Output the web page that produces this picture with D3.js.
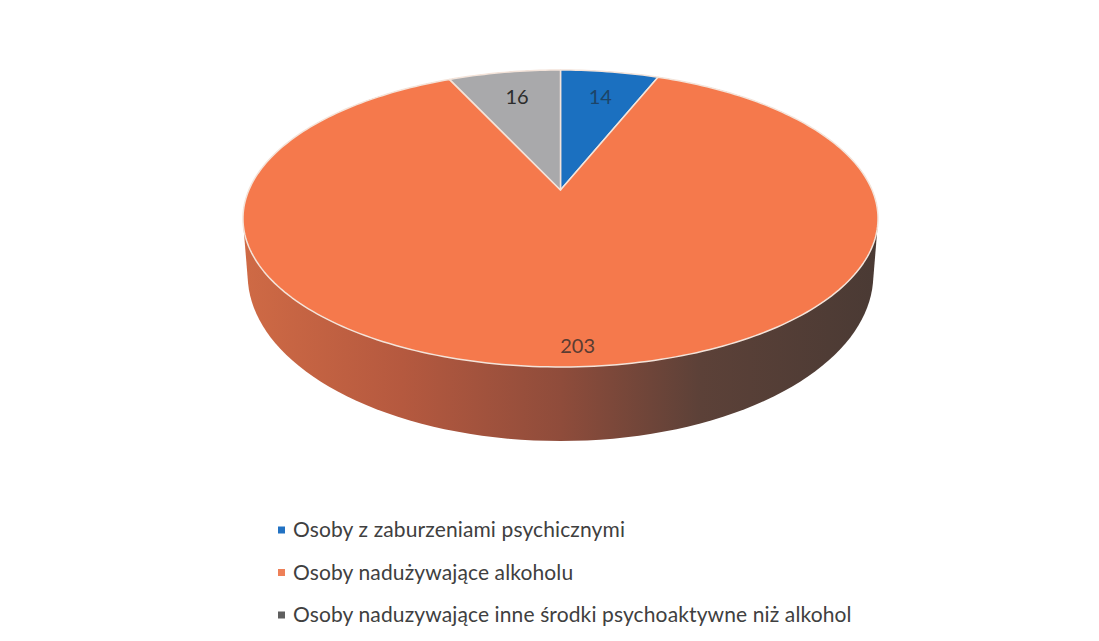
<!DOCTYPE html>
<html>
<head>
<meta charset="utf-8">
<script src="https://cdn.jsdelivr.net/npm/d3@7"></script>
<style>
html, body { margin: 0; padding: 0; background: #fff; overflow: hidden; }
text { font-family: Lato, "Open Sans", sans-serif; }
</style>
</head>
<body>
<div id="chart"></div>
<script>
var categories = [
    "Osoby z zaburzeniami psychicznymi",
    "Osoby nadużywające alkoholu",
    "Osoby naduzywające inne środki psychoaktywne niż alkohol"
];
var values = [14, 203, 16];
var sliceColors = ["#1b70c0", "#f5794c", "#a9a9ab"];
var legendColors = ["#2272c3", "#ee8058", "#5f5f5f"];
var labelColors = ["#1d4468", "#5a3c32", "#2c2c2c"];

var width = 1099, height = 641;

var svg = d3.select("#chart").append("svg")
    .attr("width", width)
    .attr("height", height);

// tilted disc: circle seen in perspective, y0 is where the pie centre lands
var topDisc = { x0: 560.5, y0: 190, a: 311.6, b: 143, k: 0.192 };
var bottomDisc = { x0: 560.5, y0: 243, a: 307, b: 160, k: 0.192 };

function project(disc, angle, r) {
    var s = Math.sin(angle) * r, u = Math.cos(angle) * r;
    var d = 1 + disc.k * u;
    return [disc.x0 + disc.a * s / d, disc.y0 - disc.b * u / d];
}

var pie = d3.pie().sort(null).value(function (d) { return d; });
var arcs = pie(values);
var line = d3.line();

function ring(disc) {
    return d3.range(0, 361, 2).map(function (deg) {
        return project(disc, deg * Math.PI / 180, 1);
    });
}

function slicePath(d) {
    var pts = [[topDisc.x0, topDisc.y0]];
    var n = Math.ceil((d.endAngle - d.startAngle) / 0.02);
    d3.range(n + 1).forEach(function (i) {
        pts.push(project(topDisc, d.startAngle + (d.endAngle - d.startAngle) * i / n, 1));
    });
    return line(pts) + "Z";
}

// side wall
var grad = svg.append("defs").append("linearGradient")
    .attr("id", "wall")
    .attr("gradientUnits", "userSpaceOnUse")
    .attr("x1", 243).attr("x2", 878).attr("y1", 0).attr("y2", 0);
grad.selectAll("stop")
    .data([[0, "#cf6a45"], [0.25, "#b5593f"], [0.5, "#8f4c3b"], [0.72, "#5c4138"], [1, "#4a3a34"]])
    .enter().append("stop")
    .attr("offset", function (d) { return d[0]; })
    .attr("stop-color", function (d) { return d[1]; });

svg.append("path")
    .attr("d", line(d3.polygonHull(ring(topDisc).concat(ring(bottomDisc)))) + "Z")
    .attr("fill", "url(#wall)");

svg.selectAll(".slice")
    .data(arcs)
    .enter().append("path")
    .attr("class", "slice")
    .attr("d", slicePath)
    .attr("fill", function (d, i) { return sliceColors[i]; })
    .attr("stroke", "#f4e4da")
    .attr("stroke-width", 1.5)
    .attr("stroke-linejoin", "round");

svg.selectAll(".label")
    .data(arcs)
    .enter().append("text")
    .attr("class", "label")
    .attr("x", function (d) {
        var mid = (d.startAngle + d.endAngle) / 2;
        return project(topDisc, mid, d.value > 100 ? 0.9 : 0.76)[0] + (d.value > 100 ? 8 : 1);
    })
    .attr("y", function (d) {
        var mid = (d.startAngle + d.endAngle) / 2;
        return project(topDisc, mid, d.value > 100 ? 0.9 : 0.76)[1] + 7;
    })
    .attr("text-anchor", "middle")
    .attr("font-size", 20)
    .attr("fill", function (d, i) { return labelColors[i]; })
    .text(function (d) { return d.value; });

// legend
var legendY = d3.scalePoint().domain(d3.range(categories.length)).range([530, 615]);
var legend = svg.selectAll(".legend")
    .data(categories)
    .enter().append("g")
    .attr("class", "legend")
    .attr("transform", function (d, i) { return "translate(278," + legendY(i) + ")"; });
legend.append("rect")
    .attr("x", 0).attr("y", -3.5)
    .attr("width", 7).attr("height", 7)
    .attr("fill", function (d, i) { return legendColors[i]; });
legend.append("text")
    .attr("x", 15).attr("y", 7)
    .attr("font-size", 21)
    .attr("letter-spacing", 0.12)
    .attr("fill", "#404040")
    .text(function (d) { return d; });
</script>
</body>
</html>
